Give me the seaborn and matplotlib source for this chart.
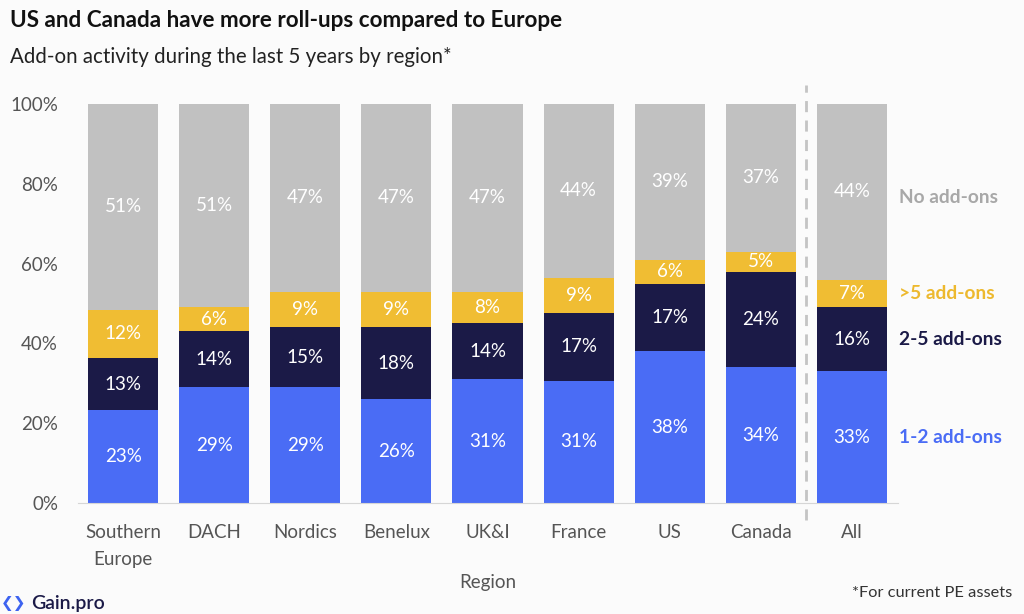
import numpy as np
import pandas as pd
import matplotlib.pyplot as plt
import seaborn as sns

# data (percent of PE assets per region)
regions = ['Southern\nEurope', 'DACH', 'Nordics', 'Benelux', 'UK&I', 'France', 'US', 'Canada', 'All']
one_two = [23, 29, 29, 26, 31, 31, 38, 34, 33]
two_five = [13, 14, 15, 18, 14, 17, 17, 24, 16]
over_five = [12, 6, 9, 9, 8, 9, 6, 5, 7]
no_addons = [51, 51, 47, 47, 47, 44, 39, 37, 44]
series_names = ['1-2 add-ons', '2-5 add-ons', '>5 add-ons', 'No add-ons']

colors = ['#4a6cf5', '#1b1a47', '#f0bd33', '#c1c1c1']
label_colors = ['#4a6cf5', '#1b1a47', '#edb92e', '#a8a8a8']
bg = '#fbfbfb'

sns.set_style('white')
plt.rcParams['font.family'] = ['Lato', 'DejaVu Sans']

df = pd.DataFrame({'region': regions, series_names[0]: one_two, series_names[1]: two_five,
                   series_names[2]: over_five, series_names[3]: no_addons})
vals = df[series_names].to_numpy(dtype=float)
# rescale each bar to 100% (rounded shares do not always add up)
shares = vals / vals.sum(axis=1, keepdims=True) * 100
cum = np.cumsum(shares, axis=1)

fig = plt.figure(figsize=(10.24, 6.14), dpi=100, facecolor=bg)
ax = fig.add_axes([0.0757, 0.1808, 0.8008, 0.6498])
ax.set_facecolor(bg)

# draw stacks from the top layer down so lower layers cover upper ones
for i in range(3, -1, -1):
    sns.barplot(x=df['region'], y=cum[:, i], color=colors[i], width=0.77,
                saturation=1, ax=ax, order=regions, linewidth=0, edgecolor='none')

# value labels
for j in range(len(regions)):
    for i in range(4):
        lo = cum[j, i - 1] if i > 0 else 0
        mid = (lo + cum[j, i]) / 2
        ax.text(j, mid, f'{int(vals[j, i])}%', ha='center', va='center',
                color='white', fontsize=13.5)

# series labels on the right, at the "All" bar segments
last = len(regions) - 1
for i in range(4):
    lo = cum[last, i - 1] if i > 0 else 0
    mid = (lo + cum[last, i]) / 2
    if i == 3:
        mid -= 1.5
    ax.text(last + 0.52, mid, series_names[i], ha='left', va='center',
            color=label_colors[i], fontsize=13.8, fontweight='bold', clip_on=False)

# dashed separator before "All"
ax.plot([last - 0.5, last - 0.5], [-4.3, 104.8], ls=(0, (4, 3)), color='#c4c4c4',
        lw=2, clip_on=False, zorder=5)

ax.set_xlim(-0.5, last + 0.5)
ax.set_ylim(0, 100)
ax.set_yticks([0, 20, 40, 60, 80, 100])
ax.set_yticklabels([f'{t}%' for t in [0, 20, 40, 60, 80, 100]])
ax.set_xticks(np.arange(-0.5, last + 1), minor=True)
ax.tick_params(axis='x', which='major', length=0, pad=15, labelsize=13.5, labelcolor='#555555')
ax.tick_params(axis='x', which='minor', length=8, color='#d6d6d6', width=1)
ax.tick_params(axis='y', length=0, pad=14, labelsize=13.5, labelcolor='#555555')
for lbl in ax.get_xticklabels():
    lbl.set_linespacing(1.75)
ax.set_xlabel('Region', fontsize=13.5, color='#555555', labelpad=4)
ax.set_ylabel('')
for s in ['top', 'right', 'left']:
    ax.spines[s].set_visible(False)
ax.spines['bottom'].set_color('#d6d6d6')

fig.text(0.0098, 0.967, 'US and Canada have more roll-ups compared to Europe',
         fontsize=16.2, fontweight='bold', color='#111111', va='center')
fig.text(0.0098, 0.907, 'Add-on activity during the last 5 years by region*',
         fontsize=14.8, color='#222222', va='center')
fig.text(0.989, 0.034, '*For current PE assets', fontsize=11.8, color='#333333',
         ha='right', va='center')
fig.text(0.001, 0.017, '\u276e\u276f', fontsize=11, color='#3d63f0', va='center',
         family=['DejaVu Sans'], fontweight='bold')
fig.text(0.030, 0.017, 'Gain.pro', fontsize=14, color='#1b1a47', va='center',
         fontweight='semibold')

fig.savefig('out.png', dpi=100, facecolor=bg)
